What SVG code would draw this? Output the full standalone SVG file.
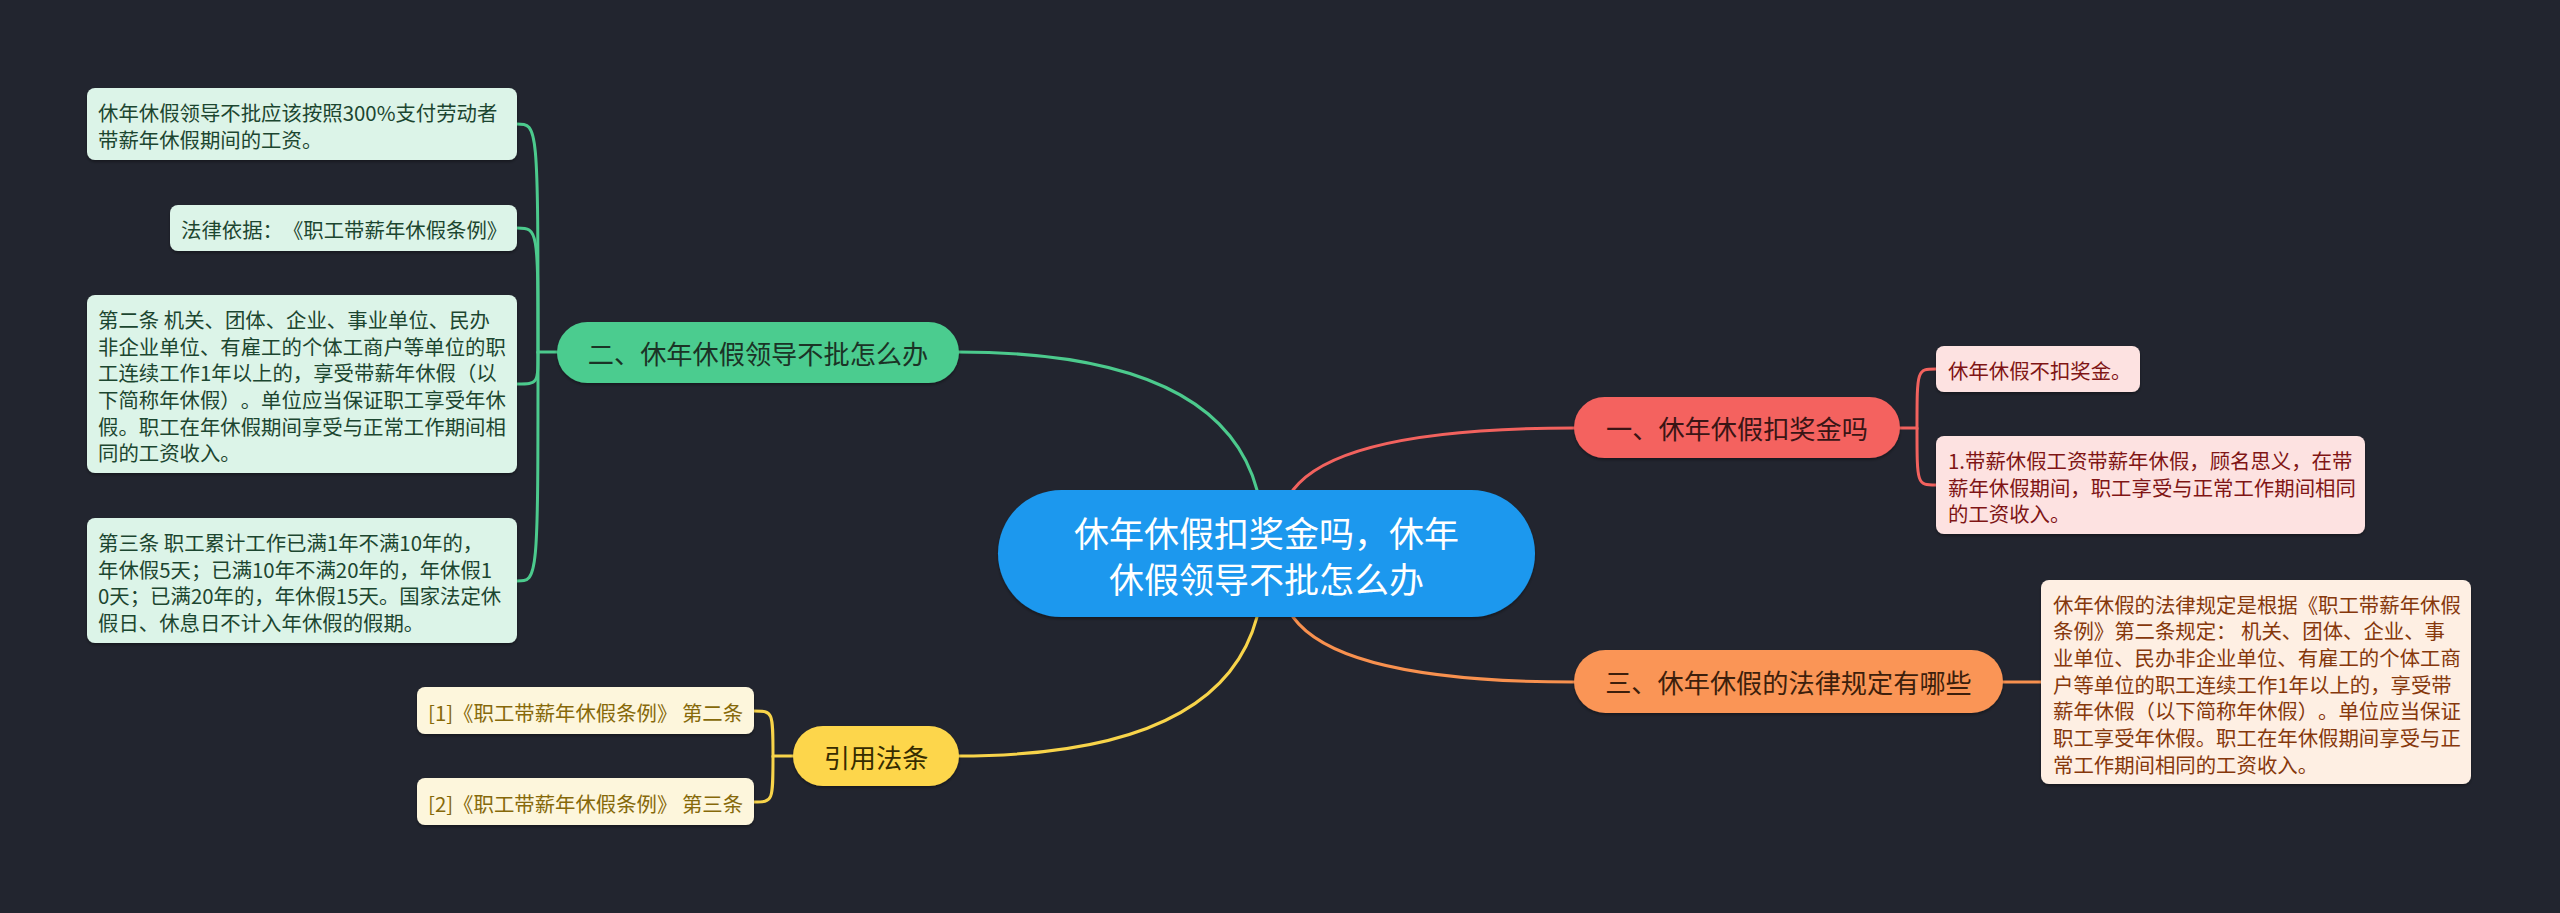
<svg xmlns="http://www.w3.org/2000/svg" width="2560" height="913" viewBox="0 0 2560 913">
<defs>
<filter id="sh" x="-10%" y="-20%" width="120%" height="150%">
<feDropShadow dx="0" dy="2" stdDeviation="1.5" flood-color="#000" flood-opacity="0.35"/>
</filter>
</defs>
<style>
text{font-family:"Noto Sans CJK SC","Noto Sans",sans-serif;dominant-baseline:central;white-space:pre;text-spacing-trim:space-all}
.c{stroke-width:3;fill:none;stroke-linecap:round}
.ctr{font-size:35px;fill:#ffffff;text-anchor:middle}
.br{font-size:26.2px;text-anchor:middle}
.lf{font-size:20.4px}
.g{stroke:#4cca8d}.r{stroke:#f2625e}.y{stroke:#f8d44a}.o{stroke:#f8914f}
</style>
<rect width="2560" height="913" fill="#22252f"/>
<g id="connectors">
<path class="c g" d="M958,352 Q1220,352 1257,490"/>
<path class="c r" d="M1293,490 Q1340,428 1574,428"/>
<path class="c y" d="M958,756 Q1220,756 1257,617"/>
<path class="c o" d="M1293,617 Q1340,682 1574,682"/>
<path class="c g" d="M557,352 H538 C538,124 538,124 517,124"/>
<path class="c g" d="M538,352 C538,228 538,228 517,228"/>
<path class="c g" d="M538,352 C538,384 538,384 517,384"/>
<path class="c g" d="M538,352 C538,581 538,581 517,581"/>
<path class="c r" d="M1900,428 H1917 C1917,369 1917,369 1936,369"/>
<path class="c r" d="M1917,428 C1917,485 1917,485 1936,485"/>
<path class="c o" d="M2003,682 H2041"/>
<path class="c y" d="M793,756 H773 C773,711 773,711 754,711"/>
<path class="c y" d="M773,756 C773,802 773,802 754,802"/>
</g>
<g id="center">
<rect x="998" y="490" width="537" height="127" rx="63.5" fill="#1b98ee" filter="url(#sh)"/>
<text class="ctr" x="1266.5" y="531">休年休假扣奖金吗，休年</text>
<text class="ctr" x="1266.5" y="577">休假领导不批怎么办</text>
</g>
<g id="b1">
<rect x="1574" y="397" width="326" height="61" rx="30.5" fill="#f4625e" filter="url(#sh)"/>
<text class="br" x="1737" y="428" fill="#3a1515">一、休年休假扣奖金吗</text>
</g>
<g id="b1c1">
<rect x="1936" y="346" width="204" height="46" rx="8" fill="#fde2e1" filter="url(#sh)"/>
<text class="lf" x="1948" y="370" fill="#7f1515">休年休假不扣奖金。</text>
</g>
<g id="b1c2">
<rect x="1936" y="436" width="429" height="98" rx="8" fill="#fde2e1" filter="url(#sh)"/>
<text class="lf" x="1948" y="460" fill="#7f1515">1.带薪休假工资带薪年休假，顾名思义，在带</text>
<text class="lf" x="1948" y="486.7" fill="#7f1515">薪年休假期间，职工享受与正常工作期间相同</text>
<text class="lf" x="1948" y="513.4" fill="#7f1515">的工资收入。</text>
</g>
<g id="b2">
<rect x="557" y="322" width="402" height="61" rx="30.5" fill="#4ccc8f" filter="url(#sh)"/>
<text class="br" x="758" y="353" fill="#1b3326">二、休年休假领导不批怎么办</text>
</g>
<g id="b2c1">
<rect x="87" y="88" width="430" height="72" rx="8" fill="#dcf4e8" filter="url(#sh)"/>
<text class="lf" x="98" y="112" fill="#1c4630">休年休假领导不批应该按照300%支付劳动者</text>
<text class="lf" x="98" y="138.7" fill="#1c4630">带薪年休假期间的工资。</text>
</g>
<g id="b2c2">
<rect x="170" y="205" width="347" height="46" rx="8" fill="#dcf4e8" filter="url(#sh)"/>
<text class="lf" x="181" y="229" fill="#1c4630">法律依据：《职工带薪年休假条例》</text>
</g>
<g id="b2c3">
<rect x="87" y="295" width="430" height="178" rx="8" fill="#dcf4e8" filter="url(#sh)"/>
<text class="lf" x="98" y="318.8" fill="#1c4630">第二条 机关、团体、企业、事业单位、民办</text>
<text class="lf" x="98" y="345.5" fill="#1c4630">非企业单位、有雇工的个体工商户等单位的职</text>
<text class="lf" x="98" y="372.2" fill="#1c4630">工连续工作1年以上的，享受带薪年休假（以</text>
<text class="lf" x="98" y="398.9" fill="#1c4630">下简称年休假）。单位应当保证职工享受年休</text>
<text class="lf" x="98" y="425.6" fill="#1c4630">假。职工在年休假期间享受与正常工作期间相</text>
<text class="lf" x="98" y="452.3" fill="#1c4630">同的工资收入。</text>
</g>
<g id="b2c4">
<rect x="87" y="518" width="430" height="125" rx="8" fill="#dcf4e8" filter="url(#sh)"/>
<text class="lf" x="98" y="542" fill="#1c4630">第三条 职工累计工作已满1年不满10年的，</text>
<text class="lf" x="98" y="568.7" fill="#1c4630">年休假5天；已满10年不满20年的，年休假1</text>
<text class="lf" x="98" y="595.4" fill="#1c4630">0天；已满20年的，年休假15天。国家法定休</text>
<text class="lf" x="98" y="622.1" fill="#1c4630">假日、休息日不计入年休假的假期。</text>
</g>
<g id="b3">
<rect x="1574" y="650" width="429" height="63" rx="31.5" fill="#fa9556" filter="url(#sh)"/>
<text class="br" x="1788.5" y="682" fill="#3d1f0c">三、休年休假的法律规定有哪些</text>
</g>
<g id="b3c1">
<rect x="2041" y="580" width="430" height="204" rx="8" fill="#feefe3" filter="url(#sh)"/>
<text class="lf" x="2053" y="603.5" fill="#86380c">休年休假的法律规定是根据《职工带薪年休假</text>
<text class="lf" x="2053" y="630.2" fill="#86380c">条例》第二条规定： 机关、团体、企业、事</text>
<text class="lf" x="2053" y="656.9" fill="#86380c">业单位、民办非企业单位、有雇工的个体工商</text>
<text class="lf" x="2053" y="683.6" fill="#86380c">户等单位的职工连续工作1年以上的，享受带</text>
<text class="lf" x="2053" y="710.3" fill="#86380c">薪年休假（以下简称年休假）。单位应当保证</text>
<text class="lf" x="2053" y="737" fill="#86380c">职工享受年休假。职工在年休假期间享受与正</text>
<text class="lf" x="2053" y="763.7" fill="#86380c">常工作期间相同的工资收入。</text>
</g>
<g id="b4">
<rect x="793" y="726" width="166" height="60" rx="30" fill="#fdd64c" filter="url(#sh)"/>
<text class="br" x="876" y="757" fill="#362c00">引用法条</text>
</g>
<g id="b4c1">
<rect x="417" y="687" width="337" height="47" rx="8" fill="#fdf6dc" filter="url(#sh)"/>
<text class="lf" x="428" y="711.5" fill="#86690a">[1]《职工带薪年休假条例》 第二条</text>
</g>
<g id="b4c2">
<rect x="417" y="778" width="337" height="47" rx="8" fill="#fdf6dc" filter="url(#sh)"/>
<text class="lf" x="428" y="802.5" fill="#86690a">[2]《职工带薪年休假条例》 第三条</text>
</g>
</svg>
